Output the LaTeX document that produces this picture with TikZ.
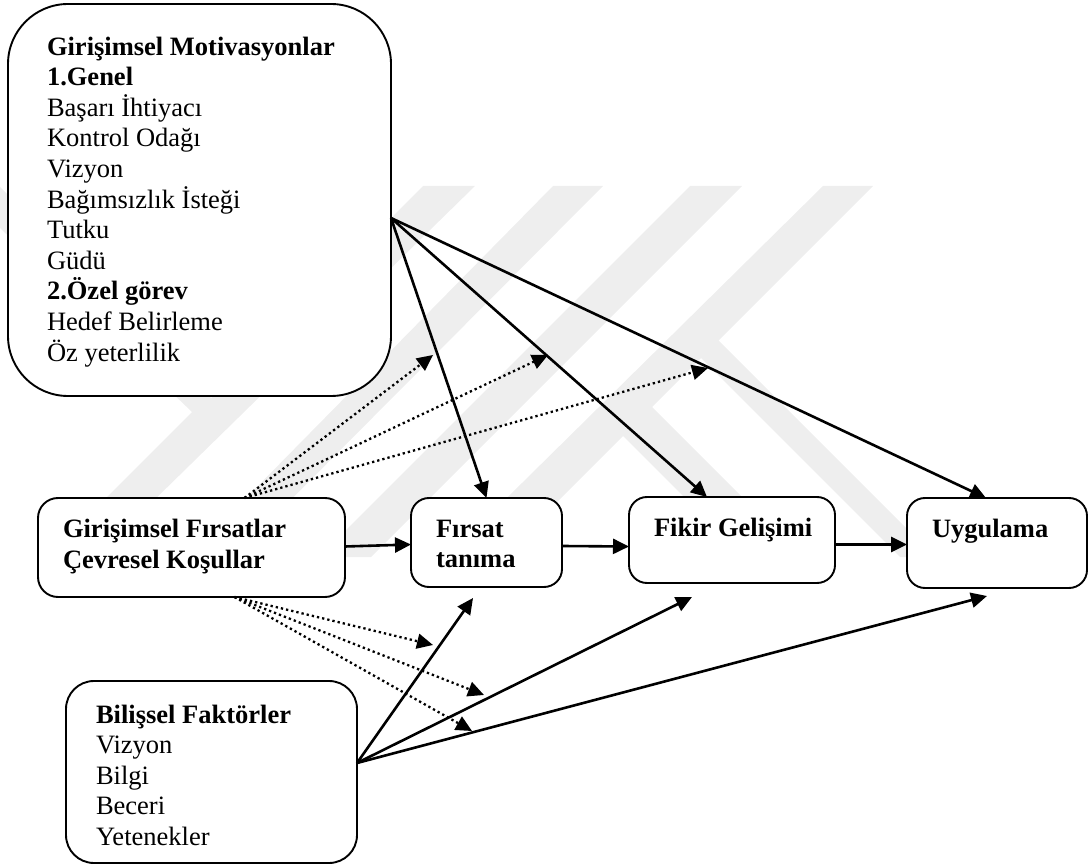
\documentclass[tikz,border=0pt]{standalone}
\usepackage{fontspec}
\setmainfont{Liberation Serif}
\usetikzlibrary{positioning, arrows.meta}
\definecolor{filigran}{HTML}{EEEEEE}
\tikzset{
	>={Triangle[length=16pt,width=15pt]},
	every edge/.append style={->, line width=2.6pt},
	kutu/.style={draw, fill=white, line width=1.9pt, inner sep=0pt, outer sep=0pt, font=\fontsize{26.5}{30.6}\selectfont},
	noktali/.style={line width=2.3pt, dash pattern=on 2.3pt off 3pt},
}

\begin{document}
\begin{tikzpicture}[x=1pt, y=-1pt]
			\useasboundingbox (0,0) rectangle (1090,866);
			
			% filigran
			\fill[filigran] (0,187) -- (0,228) -- (192,412) -- (47,557) -- (96,557) -- (475,186) -- (423,186) -- (211,398) -- cycle;
			\fill[filigran] (553,186) -- (603,186) -- (234,557) -- (188,557) -- cycle;
			\fill[filigran] (690,186) -- (742,186) -- (371,557) -- (319,557) -- cycle;
			\fill[filigran] (823,186) -- (873,186) -- (502,557) -- (447,557) -- cycle;
			\fill[filigran] (718,340) -- (935,557) -- (900,557) -- (700,357) -- cycle;
			\fill[filigran] (620,433) -- (650,405) -- (802,557) -- (744,557) -- cycle;
			
			\node [kutu, rounded corners=60pt, minimum width=383pt, minimum height=392pt] (MOTIVASYON) at (199.5,200) {\parbox[c][392pt][t]{305pt}{\vspace{29.6pt}\strut\textbf{Girişimsel Motivasyonlar}\\\textbf{1.Genel}\\Başarı İhtiyacı\\Kontrol Odağı\\Vizyon\\Bağımsızlık İsteği\\Tutku\\Güdü\\\textbf{2.Özel görev}\\Hedef Belirleme\\Öz yeterlilik}};
			\node [kutu, rounded corners=20pt, minimum width=307pt, minimum height=99pt, below=102pt of MOTIVASYON, xshift=-8pt] (FIRSATLAR) {\parbox[c][99pt][t]{257pt}{\vspace{18pt}\strut\textbf{Girişimsel Fırsatlar}\\\textbf{Çevresel Koşullar}}};
			\node [kutu, rounded corners=28pt, minimum width=291pt, minimum height=182pt, below=84pt of FIRSATLAR, xshift=20pt] (BILISSEL) {\parbox[c][182pt][t]{231pt}{\vspace{20.6pt}\strut\textbf{Bilişsel Faktörler}\\Vizyon\\Bilgi\\Beceri\\Yetenekler}};
			\node [kutu, rounded corners=18pt, minimum width=151pt, minimum height=89pt, right=66pt of FIRSATLAR, yshift=5pt] (FIRSAT) {\parbox[c][89pt][t]{101pt}{\vspace{17.6pt}\strut\textbf{Fırsat}\\\textbf{tanıma}}};
			\node [kutu, rounded corners=18pt, minimum width=206pt, minimum height=86pt, right=67pt of FIRSAT, yshift=2.5pt] (FIKIR) {\parbox[c][86pt][t]{156pt}{\vspace{17.6pt}\strut\mbox{\textbf{Fikir Gelişimi}}}};
			\node [kutu, rounded corners=18pt, minimum width=180pt, minimum height=90pt, right=72pt of FIKIR, yshift=-3pt] (UYGULAMA) {\parbox[c][90pt][t]{130pt}{\vspace{17.6pt}\strut\textbf{Uygulama}}};
			
			\coordinate (MOTcikis) at ([yshift=-18pt]MOTIVASYON.east);
			\coordinate (FIRSATust) at ([xshift=53pt]FIRSATLAR.north);
			\coordinate (FIRSATalt) at ([xshift=43pt]FIRSATLAR.south);
			\coordinate (BILcikis) at ([yshift=9pt]BILISSEL.east);
			\coordinate (A1) at (433,355);
			\coordinate (A2) at (548,355);
			\coordinate (A3) at (708,368);
			\coordinate (B1) at (433,645);
			\coordinate (B2) at (484,695);
			\coordinate (B3) at (472,731);
			\coordinate (C1) at (473,598);
			\coordinate (C2) at (692,597);
			\coordinate (C3) at (987,596);
			
			\draw (MOTcikis) edge[] (FIRSAT.north);
			\draw (MOTcikis) edge[] ([xshift=-25pt]FIKIR.north);
			\draw (MOTcikis) edge[] ([xshift=-11pt]UYGULAMA.north);
			\draw (FIRSATust) edge[noktali] (A1);
			\draw (FIRSATust) edge[noktali] (A2);
			\draw (FIRSATust) edge[noktali] (A3);
			\draw (FIRSATalt) edge[noktali] (B1);
			\draw (FIRSATalt) edge[noktali] (B2);
			\draw (FIRSATalt) edge[noktali] (B3);
			\draw (BILcikis) edge[] (C1);
			\draw (BILcikis) edge[] (C2);
			\draw (BILcikis) edge[] (C3);
			\draw ([yshift=1pt]FIRSATLAR.east) edge[] ([yshift=-2pt]FIRSAT.west);
			\draw ([yshift=-3.5pt]FIRSAT.east) edge[] ([yshift=-6.5pt]FIKIR.west);
			\draw ([yshift=-4.5pt]FIKIR.east) edge[] ([yshift=-1.5pt]UYGULAMA.west);
			
		\end{tikzpicture}
\end{document}
